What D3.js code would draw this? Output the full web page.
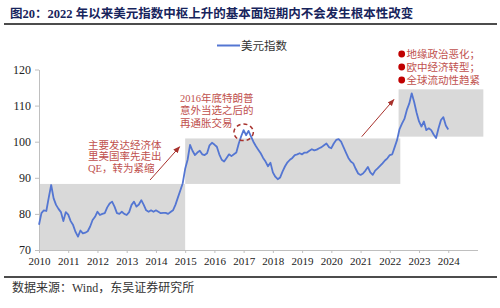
<!DOCTYPE html>
<html>
<head>
<meta charset="utf-8">
<script src="https://cdn.jsdelivr.net/npm/d3@7"></script>
<style>
  body { margin: 0; background: #fff; }
  svg { display: block; }
</style>
</head>
<body>
<svg id="chart"></svg>
<script>
// monthly US dollar index, Jan 2010 .. Jan 2024
const startYear = 2010;
const dxyValues = [
  77.0, 80.2, 81.0, 80.8, 84.5, 88.0, 84.3, 82.5, 81.4, 80.5, 78.0, 80.5,
  79.8, 78.0, 76.9, 75.0, 73.7, 75.4, 74.6, 74.8, 75.2, 76.5, 78.3, 79.2,
  80.6, 79.7, 80.0, 80.2, 81.8, 82.9, 83.4, 82.0, 80.2, 80.0, 80.6, 80.0,
  79.7, 80.5, 82.5, 83.4, 82.0, 82.6, 83.8, 82.5, 81.0, 80.6, 81.0, 80.6,
  81.0, 80.6, 80.2, 80.3, 80.3, 80.0, 80.5, 81.0, 82.5, 84.5, 86.5, 88.5,
  92.5, 95.0, 99.1, 97.5, 96.3, 97.0, 97.5, 96.5, 96.3, 96.8, 99.0, 99.7,
  99.2, 98.6, 96.5, 95.0, 94.5, 95.5, 96.5, 96.0, 96.5, 97.0, 99.5, 101.5,
  103.2, 101.8, 103.0, 101.5, 100.0, 98.8, 97.8, 96.8, 95.5, 94.5, 93.2, 94.2,
  91.5, 90.3, 89.6, 90.1, 91.8, 93.2, 94.3, 95.0, 95.5, 96.3, 96.5, 96.8,
  96.5, 97.0, 97.0, 97.5, 97.9, 97.6, 97.8, 98.2, 98.5, 99.0, 99.5, 98.5,
  98.2, 99.5, 100.5, 100.7, 100.0, 98.5, 97.0, 95.5, 94.5, 94.0, 92.5, 91.2,
  90.8, 91.2, 92.0, 93.0, 91.5, 90.8, 92.0, 92.6, 93.3, 94.0, 94.8, 95.4,
  96.3, 96.5, 98.5, 100.5, 103.5, 105.0, 106.3, 108.8, 110.6, 113.4, 111.0, 108.0,
  105.6, 104.2, 105.6, 103.2, 103.7, 103.2, 102.0, 101.0, 103.7, 106.0, 106.8, 104.5,
  103.4
];
const xTicks = [2010, 2011, 2012, 2013, 2014, 2015, 2016, 2017, 2018, 2019, 2020, 2021, 2022, 2023, 2024];
const yTicks = [70, 80, 90, 100, 110, 120];

// shaded regimes (year range, index range)
const regimeFrom = [2010, 2015, 2022.3];
const regimeTo = [2015, 2022.36, 2025.2];
const regimeLow = [70, 88.3, 101.4];
const regimeHigh = [88.3, 100.9, 114.5];

const titleText = "图20：2022 年以来美元指数中枢上升的基本面短期内不会发生根本性改变";
const sourceText = "数据来源：Wind，东吴证券研究所";
const legendLabel = "美元指数";
const noteQE = ["主要发达经济体", "里美国率先走出", "QE，转为紧缩"];
const noteTrump = ["2016年底特朗普", "意外当选之后的", "再通胀交易"];
const noteRisks = ["地缘政治恶化；", "欧中经济转型；", " 全球流动性趋紧"];

function drawDollarChart() {
  const width = 500;
  const height = 308;
  const serif = "'Liberation Serif', 'Noto Sans CJK SC', serif";
  const noteRed = "#c0504d";
  const arrowRed = "#a8322d";

  const svg = d3.select("#chart")
    .attr("width", width)
    .attr("height", height);

  const data = dxyValues.map((v, i) => ({ t: startYear + i / 12, v: v }));

  const x = d3.scaleLinear().domain([2010, 2025]).range([39, 477.5]);
  const y = d3.scaleLinear().domain([70, 120]).range([250, 69.5]);

  // title + rules
  svg.append("text")
    .attr("x", 10)
    .attr("y", 17.5)
    .style("font-family", serif)
    .style("font-weight", "bold")
    .style("font-size", "12.5px")
    .attr("fill", "#17245c")
    .text(titleText);

  svg.append("line")
    .attr("x1", 4).attr("x2", 497).attr("y1", 24).attr("y2", 24)
    .attr("stroke", "#111").attr("stroke-width", 1.6);

  svg.append("line")
    .attr("x1", 4).attr("x2", 497).attr("y1", 277).attr("y2", 277)
    .attr("stroke", "#111").attr("stroke-width", 1.3);

  svg.append("text")
    .attr("x", 12)
    .attr("y", 292)
    .style("font-family", serif)
    .style("font-size", "12px")
    .attr("fill", "#333")
    .text(sourceText);

  // gray boxes
  svg.append("g").selectAll("rect")
    .data(regimeFrom)
    .enter()
    .append("rect")
    .attr("x", (d, i) => x(regimeFrom[i]))
    .attr("y", (d, i) => y(regimeHigh[i]))
    .attr("width", (d, i) => x(regimeTo[i]) - x(regimeFrom[i]))
    .attr("height", (d, i) => y(regimeLow[i]) - y(regimeHigh[i]))
    .attr("fill", "#d9d9d9");

  // axes
  const xAxis = svg.append("g")
    .attr("transform", "translate(0," + y(70) + ")")
    .call(d3.axisBottom(x).tickValues(xTicks).tickFormat(d3.format("d")).tickSize(3).tickSizeOuter(0).tickPadding(4));
  xAxis.select(".domain").attr("stroke", "#bfbfbf");
  xAxis.selectAll(".tick line").attr("stroke", "#bfbfbf");
  xAxis.selectAll(".tick text")
    .style("font-family", serif)
    .style("font-size", "11px")
    .attr("fill", "#222");

  const yAxis = svg.append("g")
    .attr("transform", "translate(" + x(2010) + ",0)")
    .call(d3.axisLeft(y).tickValues(yTicks).tickSize(4).tickSizeOuter(0).tickPadding(4));
  yAxis.select(".domain").attr("stroke", "#bfbfbf");
  yAxis.selectAll(".tick line").attr("stroke", "#bfbfbf");
  yAxis.selectAll(".tick text")
    .style("font-family", serif)
    .style("font-size", "12px")
    .attr("fill", "#222");

  // series
  svg.append("path")
    .datum(data)
    .attr("fill", "none")
    .attr("stroke", "#5476d2")
    .attr("stroke-width", 1.8)
    .attr("stroke-linejoin", "round")
    .attr("d", d3.line().x(d => x(d.t)).y(d => y(d.v)));

  // legend
  svg.append("line")
    .attr("x1", 217).attr("x2", 240).attr("y1", 45.5).attr("y2", 45.5)
    .attr("stroke", "#5476d2").attr("stroke-width", 2);
  svg.append("text")
    .attr("x", 241)
    .attr("y", 49.5)
    .style("font-family", serif)
    .style("font-size", "11.5px")
    .attr("fill", "#333")
    .text(legendLabel);

  // arrows
  const defs = svg.append("defs");
  defs.append("marker")
    .attr("id", "arrow-head")
    .attr("viewBox", "0 0 10 10")
    .attr("refX", 9).attr("refY", 5)
    .attr("markerWidth", 7).attr("markerHeight", 7)
    .attr("orient", "auto")
    .append("path")
    .attr("d", "M0,1 L10,5 L0,9 z")
    .attr("fill", arrowRed);

  const arrows = [
    [[2013.80, 89.4], [2014.81, 98.6]],
    [[2021.04, 101.4], [2022.14, 111.7]]
  ];
  arrows.forEach(a => {
    svg.append("line")
      .attr("x1", x(a[0][0])).attr("y1", y(a[0][1]))
      .attr("x2", x(a[1][0])).attr("y2", y(a[1][1]))
      .attr("stroke", arrowRed)
      .attr("stroke-width", 1)
      .attr("marker-end", "url(#arrow-head)");
  });

  // dashed circle round the 2017 peak
  svg.append("ellipse")
    .attr("cx", x(2017.0))
    .attr("cy", y(102.6))
    .attr("rx", 9.7)
    .attr("ry", 8.3)
    .attr("fill", "none")
    .attr("stroke", arrowRed)
    .attr("stroke-width", 1.5)
    .attr("stroke-dasharray", "4,3");

  // notes
  const notes = svg.append("g")
    .style("font-family", serif)
    .style("font-size", "10.5px")
    .attr("fill", noteRed);

  noteQE.forEach((line, i) => {
    notes.append("text")
      .attr("x", 88)
      .attr("y", 148.5 + i * 11.6)
      .text(line);
  });

  noteTrump.forEach((line, i) => {
    notes.append("text")
      .attr("x", 180)
      .attr("y", 101.8 + i * 12.6)
      .text(line);
  });

  noteRisks.forEach((line, i) => {
    svg.append("circle")
      .attr("cx", 401.7)
      .attr("cy", 54 + i * 13)
      .attr("r", 3.4)
      .attr("fill", "#c00000");
    notes.append("text")
      .attr("x", 406.5)
      .attr("y", 57.6 + i * 13)
      .text(line);
  });
}

drawDollarChart();
</script>
</body>
</html>
